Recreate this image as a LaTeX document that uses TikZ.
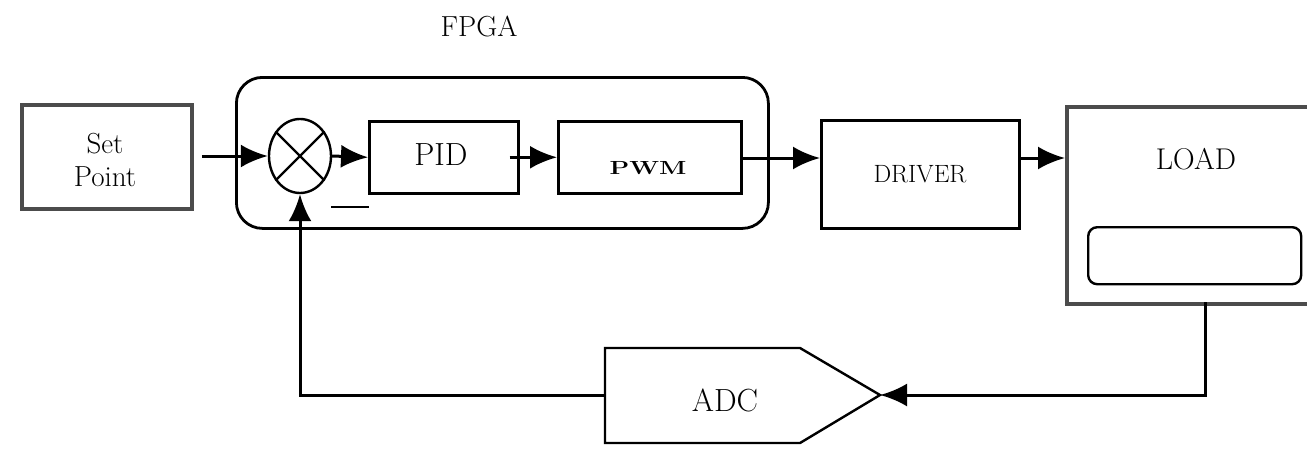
\documentclass[tikz,border=0pt]{standalone}
\usetikzlibrary{arrows.meta,shapes.geometric}
\begin{document}
\begin{tikzpicture}[x=1pt,y=-1pt,
  blk/.style={draw, line width=2.6pt, inner sep=0pt},
  lbl/.style={text=black, inner sep=0pt},
  conn/.style={line width=3pt, -{Latex[length=27pt,width=23pt]}},
  wire/.style={line width=3pt}]
\clip (0,0) rectangle (1307,450);
\fill[white] (0,0) rectangle (1307,450);
% FPGA container
\node[draw, line width=2.8pt, rounded corners=26pt, minimum width=532pt, minimum height=151pt, anchor=north west] (fpga) at (235,76) {};
\node[lbl, font=\fontsize{29}{32}\selectfont] (fpgalbl) at (479,26) {FPGA};
% Set point
\node[blk, draw=black!70, line width=3.8pt, minimum width=170pt, minimum height=104pt, anchor=north west] (sp) at (20,103) {};
\node[lbl, align=center, font=\fontsize{29}{33}\selectfont] (sptext) at (105,160) {Set\\Point};
% summing junction
\node[draw, ellipse, line width=2.4pt, minimum width=62pt, minimum height=74pt, inner sep=0pt] (sum) at (300,156) {};
\draw[line width=2.2pt] (sum.45) -- (sum.225) (sum.135) -- (sum.315);
\node[inner sep=0pt] (minus) at (350,207) {\rule{38pt}{2.4pt}};
% PID
\node[blk, minimum width=149pt, minimum height=72pt, anchor=north west] (pid) at (368,120) {};
\node[lbl, font=\fontsize{32}{34}\selectfont] (pidtext) at (441,155) {PID};
% PWM
\node[blk, minimum width=183pt, minimum height=72pt, anchor=north west] (pwm) at (557,120) {};
\node[lbl, font=\fontsize{19}{21}\selectfont\bfseries] (pwmtext) at (648,168) {\scalebox{1.35}[1]{PWM}};
% DRIVER
\node[blk, minimum width=198pt, minimum height=108pt, anchor=north west] (drv) at (820,119) {};
\node[lbl, font=\fontsize{25}{27}\selectfont] (drvtext) at (920,174) {DRIVER};
% LOAD
\node[blk, draw=black!70, line width=3.6pt, minimum width=270pt, minimum height=197pt, anchor=north west] (load) at (1065,105) {};
\node[lbl, font=\fontsize{30}{32}\selectfont] (loadtext) at (1196,159) {LOAD};
\node[draw, line width=2.4pt, rounded corners=9pt, minimum width=213pt, minimum height=57pt, anchor=north west] (inner) at (1087,226) {};
% ADC
\coordinate (adcW) at (605,395);
\coordinate (adcTip) at (880,395);
\draw[line width=2.4pt] (605,348) -- (800,348) -- (adcTip) -- (800,443) -- (605,443) -- cycle;
\node[lbl, font=\fontsize{32}{34}\selectfont] (adctext) at (725,400) {ADC};
% connectors
\draw[conn] ([xshift=8pt]sp.east |- sum.west) -- (sum.west);
\draw[conn] (sum.east) -- (pid.west);
\draw[conn] ([xshift=-10pt]pid.east) -- (pwm.west);
\draw[conn] (pwm.east |- 0,158) -- (drv.west |- 0,158);
\draw[conn] (drv.east |- 0,158) -- (load.west |- 0,158);
\draw[conn] (1205,302) -- (1205,395) -- (adcTip);
\draw[conn] (adcW) -| (sum.south);
\end{tikzpicture}
\end{document}
